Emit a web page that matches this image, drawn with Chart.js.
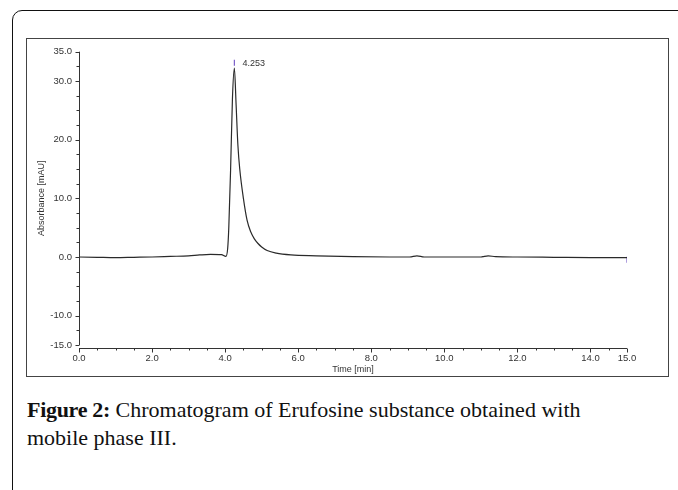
<!DOCTYPE html>
<html>
<head>
<meta charset="utf-8">
<script src="https://cdn.jsdelivr.net/npm/chart.js@4.4.1/dist/chart.umd.min.js"></script>
<style>
  html, body { margin: 0; padding: 0; background: #fff; }
  body { width: 678px; height: 490px; position: relative; overflow: hidden; }
  #frame {
    position: absolute; left: 12px; top: 10px; width: 700px; height: 520px;
    border: 1.5px solid #111; border-top-left-radius: 10px;
  }
  #box {
    position: absolute; left: 26px; top: 38px; width: 641px; height: 337px;
    border: 1px solid #444;
  }
  #chart { position: absolute; left: 27px; top: 39px; }
  #caption {
    position: absolute; left: 27px; top: 396px; width: 640px; white-space: nowrap;
    font-family: "Liberation Serif", "DejaVu Serif", serif;
    font-size: 22px; line-height: 28px; color: #111;
  }
  #caption b { font-weight: bold; letter-spacing: -0.3px; }
</style>
</head>
<body>
<div id="frame"></div>
<div id="box"></div>
<canvas id="chart" width="640" height="336"></canvas>
<div id="caption"><b>Figure 2:</b> Chromatogram of Erufosine substance obtained with<br>mobile phase III.</div>
<script>
// retentietijd (min) en absorbantie (mAU)
const times = [0, 0.5, 1.0, 1.5, 2.0, 2.5, 3.0, 3.3, 3.6, 3.9, 4.02, 4.07, 4.1, 4.15, 4.2, 4.253,
  4.3, 4.35, 4.4, 4.5, 4.6, 4.7, 4.8, 4.9, 5.0, 5.15, 5.4, 5.8, 6.5, 7.5, 8.5, 9.05, 9.25, 9.45,
  10.0, 11.0, 11.05, 11.2, 11.4, 12.0, 13.0, 14.0, 15.0];
const absorbance = [0.0, -0.05, -0.1, -0.05, 0.0, 0.1, 0.2, 0.35, 0.45, 0.4, 0.1, 1.5, 5, 15, 27, 32.2,
  26, 19, 15, 10, 6.3, 4.3, 3.1, 2.3, 1.7, 1.1, 0.65, 0.35, 0.2, 0.05, 0.0, 0.0, 0.2, 0.0,
  0.0, 0.0, 0.05, 0.2, 0.05, 0.0, -0.05, -0.1, -0.1];

// piekmarkering
const peakTime = [4.253];
const peakHeight = [33.1];
const peakLabel = ["4.253"];
const endMarkTime = [15.0];
const endMarkValue = [-0.45];

// asindeling
const xMin = 0, xMax = 15, xStep = 0.5;
const yMin = -15, yMax = 35, yStep = 2.5;
const xLabelled = [0, 2, 4, 6, 8, 10, 12, 14, 15];
const yLabelled = [35, 30, 20, 10, 0, -10, -15];

const tickFont = { family: "Liberation Sans, Arial, sans-serif", size: 9.5 };
const titleFont = { family: "Liberation Sans, Arial, sans-serif", size: 9 };

function stepTicks(min, max, step) {
  const out = [];
  for (let i = 0; min + i * step <= max + 1e-9; i++) out.push({ value: +(min + i * step).toFixed(2) });
  return out;
}

// assen, tickstreepjes en piekannotatie zelf tekenen
const axesPlugin = {
  id: "axes",
  afterDatasetsDraw(chart) {
    const { ctx, chartArea } = chart;
    const xs = chart.scales.x, ys = chart.scales.y;
    ctx.save();
    ctx.strokeStyle = "#333";
    ctx.lineWidth = 1;
    // y-as
    const ax = Math.round(chartArea.left) + 0.5;
    ctx.beginPath();
    ctx.moveTo(ax, ys.getPixelForValue(yMax));
    ctx.lineTo(ax, ys.getPixelForValue(yMin));
    ys.ticks.forEach(t => {
      const y = Math.round(ys.getPixelForValue(t.value)) + 0.5;
      const len = yLabelled.includes(t.value) ? 4 : 3;
      ctx.moveTo(ax, y);
      ctx.lineTo(ax - len, y);
    });
    ctx.stroke();
    // x-as
    const ay = Math.round(chartArea.bottom) + 3.5;
    ctx.beginPath();
    ctx.moveTo(xs.getPixelForValue(xMin), ay);
    ctx.lineTo(xs.getPixelForValue(xMax), ay);
    xs.ticks.forEach(t => {
      const x = Math.round(xs.getPixelForValue(t.value)) + 0.5;
      const len = xLabelled.includes(t.value) ? 4 : 2;
      ctx.moveTo(x, ay);
      ctx.lineTo(x, ay + len);
    });
    ctx.stroke();
    // piekwaarde
    ctx.fillStyle = "#333";
    ctx.font = "9px Liberation Sans, Arial, sans-serif";
    ctx.textBaseline = "middle";
    ctx.textAlign = "left";
    peakTime.forEach((t, i) => {
      ctx.fillText(peakLabel[i], xs.getPixelForValue(t) + 8, ys.getPixelForValue(peakHeight[i]) + 1);
    });
    ctx.restore();
  }
};

const ctx = document.getElementById("chart").getContext("2d");

new Chart(ctx, {
  type: "scatter",
  data: {
    datasets: [
      {
        label: "Chromatogram",
        data: times.map((t, i) => ({ x: t, y: absorbance[i] })),
        showLine: true,
        borderColor: "#2a2a2a",
        borderWidth: 1.2,
        pointRadius: 0,
        tension: 0.35,
        cubicInterpolationMode: "monotone",
        fill: false,
      },
      {
        label: "Piek",
        data: peakTime.map((t, i) => ({ x: t, y: peakHeight[i] }))
          .concat(endMarkTime.map((t, i) => ({ x: t, y: endMarkValue[i] }))),
        pointStyle: "line",
        rotation: 90,
        pointRadius: 3,
        borderColor: "#7b5fc9",
        borderWidth: 1.2,
      },
    ],
  },
  options: {
    responsive: false,
    animation: false,
    layout: { padding: { top: 12, right: 40, left: 0, bottom: 0 } },
    plugins: { legend: { display: false }, tooltip: { enabled: false } },
    scales: {
      x: {
        type: "linear",
        min: xMin,
        max: xMax,
        afterBuildTicks: (scale) => { scale.ticks = stepTicks(xMin, xMax, xStep); },
        afterFit: (scale) => { scale.height = 30; },
        grid: { display: false, drawTicks: false },
        border: { display: false },
        ticks: {
          autoSkip: false,
          maxRotation: 0,
          padding: 8,
          color: "#333",
          font: tickFont,
          callback: (v) => (xLabelled.includes(+v.toFixed(2)) ? v.toFixed(1) : ""),
        },
        title: { display: true, text: "Time [min]", color: "#333", font: titleFont, padding: { top: 0, bottom: 0 } },
      },
      y: {
        type: "linear",
        min: yMin,
        max: yMax,
        afterBuildTicks: (scale) => { scale.ticks = stepTicks(yMin, yMax, yStep); },
        afterFit: (scale) => { scale.width = 52; },
        grid: { display: false, drawTicks: false },
        border: { display: false },
        ticks: {
          autoSkip: false,
          padding: 7,
          color: "#333",
          font: tickFont,
          callback: (v) => (yLabelled.includes(+v.toFixed(2)) ? v.toFixed(1) : ""),
        },
        title: { display: true, text: "Absorbance [mAU]", color: "#333", font: titleFont, padding: { top: 9.5, bottom: 0 } },
      },
    },
  },
  plugins: [axesPlugin],
});
</script>
</body>
</html>
